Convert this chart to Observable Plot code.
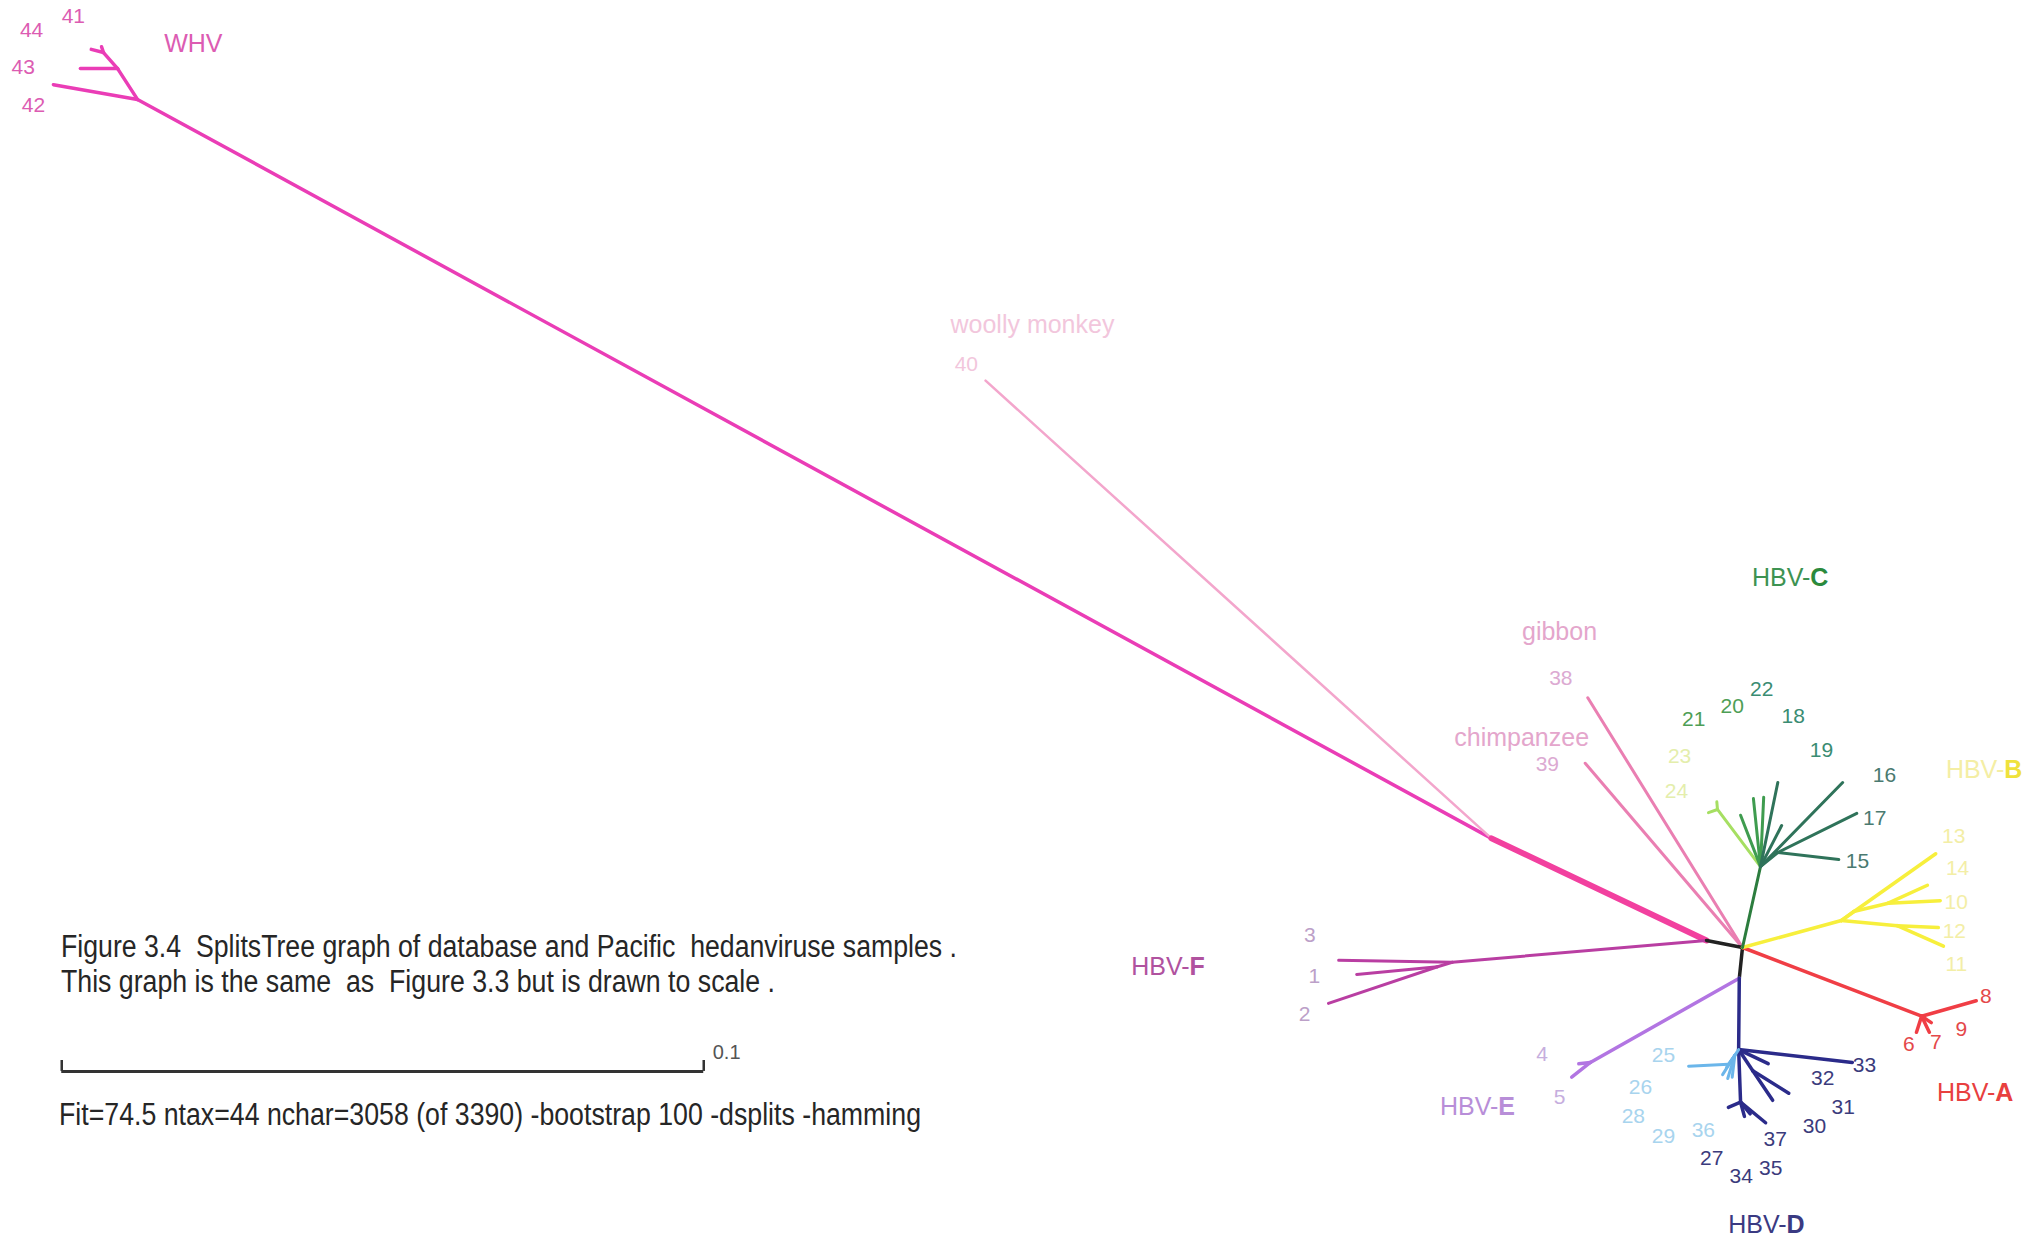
<!DOCTYPE html>
<html>
<head>
<meta charset="utf-8">
<script src="https://cdn.jsdelivr.net/npm/d3@7"></script>
<script src="https://cdn.jsdelivr.net/npm/@observablehq/plot@0.6"></script>
<style>
  html, body { margin: 0; padding: 0; background: #fff; }
  #wrap { position: relative; width: 2042px; height: 1243px; overflow: hidden; }
  #wrap svg { position: absolute; left: 0; top: 0; }
  .cap { position: absolute; white-space: pre; font-family: "Liberation Sans", Arial, sans-serif;
         font-size: 31px; line-height: 1; color: #262626; transform-origin: 0 50%; }
</style>
</head>
<body>
<div id="wrap">
  <div class="cap" style="left:61px;top:931px" data-w="896">Figure 3.4  SplitsTree graph of database and Pacific  hedanviruse samples .</div>
  <div class="cap" style="left:61px;top:966px" data-w="714">This graph is the same  as  Figure 3.3 but is drawn to scale .</div>
  <div class="cap" style="left:59px;top:1099px" data-w="862">Fit=74.5 ntax=44 nchar=3058 (of 3390) -bootstrap 100 -dsplits -hamming</div>
</div>
<script>
// Splits graph nodes: id, x, y in substitutions per site (hub of the HBV genotypes at 0,0; y grows downward)
const nodes = [
  ["H0", 0, 0], ["H1", -0.0056, -0.0011], ["H2", -0.0005, 0.0048], ["P1", -0.0391, -0.0170],
  // WHV
  ["W0", -0.2500, -0.1321], ["W1", -0.2531, -0.1369], ["W2", -0.2553, -0.1394],
  ["t42", -0.2631, -0.1344], ["t43", -0.2589, -0.1369], ["t44", -0.2572, -0.1399], ["t41", -0.2556, -0.1403],
  // primates
  ["t40", -0.1179, -0.0883], ["t38", -0.0241, -0.0389], ["t39", -0.0245, -0.0287],
  // HBV-F
  ["F0", -0.0452, 0.0023], ["F1", -0.0475, 0.0030],
  ["t3", -0.0629, 0.0020], ["t1", -0.0601, 0.0042], ["t2", -0.0645, 0.0087],
  // HBV-C
  ["C0", 0.0028, -0.0126], ["C1", -0.0039, -0.0215], ["C2", 0.0055, -0.0148],
  ["t24", -0.0053, -0.0210], ["t23", -0.0040, -0.0227],
  ["t21", -0.0003, -0.0206], ["t20", 0.0017, -0.0232], ["t22", 0.0033, -0.0234],
  ["t18", 0.0055, -0.0257], ["t19", 0.0061, -0.0190],
  ["t16", 0.0156, -0.0257], ["t17", 0.0178, -0.0209], ["t15", 0.0150, -0.0137],
  // HBV-B
  ["B0", 0.0154, -0.0042], ["B1", 0.0173, -0.0056], ["B3", 0.0227, -0.0069], ["B2", 0.0241, -0.0034],
  ["t13", 0.0301, -0.0146], ["t14", 0.0288, -0.0097], ["t10", 0.0308, -0.0073],
  ["t12", 0.0305, -0.0031], ["t11", 0.0313, -0.0002],
  // HBV-A
  ["A0", 0.0279, 0.0107], ["t8", 0.0364, 0.0083], ["t6", 0.0271, 0.0132], ["t7", 0.0291, 0.0132], ["t9", 0.0294, 0.0117],
  // HBV-E
  ["E0", -0.0237, 0.0179], ["t4", -0.0255, 0.0181], ["t5", -0.0266, 0.0202],
  // HBV-D
  ["D0", -0.0006, 0.0159], ["D1", 0.0016, 0.0192], ["D2", -0.0003, 0.0241],
  ["t33", 0.0171, 0.0179], ["t32", 0.0040, 0.0181], ["t31", 0.0072, 0.0227], ["t30", 0.0047, 0.0238],
  ["t37", 0.0036, 0.0273], ["t27", -0.0022, 0.0249], ["t34", 0.0003, 0.0263], ["t35", 0.0012, 0.0259],
  ["L0", -0.0012, 0.0168], ["L1", -0.0022, 0.0182],
  ["t25", -0.0084, 0.0185], ["t26", -0.0031, 0.0198], ["t28", -0.0023, 0.0204], ["t29", -0.0016, 0.0202], ["t36", -0.0025, 0.0187]
];

// Edges of the graph: from, to, clade
const branches = [
  ["P1", "W0", "WHV"], ["W0", "t42", "WHV"], ["W0", "W1", "WHV"], ["W1", "t43", "WHV"],
  ["W1", "W2", "WHV"], ["W2", "t44", "WHV"], ["W2", "t41", "WHV"],
  ["P1", "t40", "woolly"],
  ["H0", "t38", "ape"], ["H0", "t39", "ape"],
  ["P1", "H1", "bundle"],
  ["H1", "F0", "F"], ["F0", "t3", "F"], ["F0", "F1", "F"], ["F1", "t1", "F"], ["F1", "t2", "F"],
  ["H1", "H0", "core"], ["H0", "H2", "core"],
  ["H2", "E0", "E"], ["E0", "t4", "E"], ["E0", "t5", "E"],
  ["H2", "D0", "D"], ["D0", "t33", "D"], ["D0", "t32", "D"], ["D0", "D1", "D"], ["D1", "t31", "D"], ["D1", "t30", "D"],
  ["D0", "D2", "D"], ["D2", "t37", "D"], ["D2", "t27", "D"], ["D2", "t34", "D"], ["D2", "t35", "D"],
  ["D0", "L0", "Dlight"], ["L0", "L1", "Dlight"], ["L1", "t25", "Dlight"], ["L0", "t26", "Dlight"],
  ["L0", "t28", "Dlight"], ["L0", "t29", "Dlight"], ["L0", "t36", "Dlight"],
  ["H0", "A0", "A"], ["A0", "t8", "A"], ["A0", "t6", "A"], ["A0", "t7", "A"], ["A0", "t9", "A"],
  ["H0", "B0", "B"], ["B0", "t13", "B"], ["B0", "B1", "B"], ["B1", "B3", "B"], ["B3", "t14", "B"], ["B3", "t10", "B"],
  ["B0", "B2", "B"], ["B2", "t12", "B"], ["B2", "t11", "B"],
  ["H0", "C0", "Cstem"],
  ["C0", "C1", "Clight"], ["C1", "t24", "Clight"], ["C1", "t23", "Clight"],
  ["C0", "t21", "Cmid"], ["C0", "t20", "Cmid"], ["C0", "t22", "Cmid"],
  ["C0", "t18", "Cdark"], ["C0", "t19", "Cdark"], ["C0", "t16", "Cdark"],
  ["C0", "C2", "Cdark"], ["C2", "t17", "Cdark"], ["C2", "t15", "Cdark"]
];

// Taxon numbers: text, x, y, tone
const taxonLabels = [
  ["44", -0.2665, -0.1428, "whv"], ["41", -0.2600, -0.1450, "whv"], ["43", -0.2678, -0.1371, "whv"], ["42", -0.2662, -0.1312, "whv"],
  ["40", -0.1209, -0.0908, "woolly"], ["38", -0.0283, -0.0419, "ape"], ["39", -0.0304, -0.0285, "ape"],
  ["21", -0.0076, -0.0355, "cmid"], ["20", -0.0016, -0.0375, "cmid"], ["22", 0.0030, -0.0403, "cteal"],
  ["18", 0.0079, -0.0360, "cteal"], ["19", 0.0123, -0.0307, "cteal"],
  ["16", 0.0221, -0.0268, "cdark"], ["17", 0.0206, -0.0201, "cdark"], ["15", 0.0179, -0.0134, "cdark"],
  ["23", -0.0098, -0.0298, "clight"], ["24", -0.0103, -0.0243, "clight"],
  ["13", 0.0329, -0.0173, "b"], ["14", 0.0335, -0.0123, "b"], ["10", 0.0333, -0.0070, "b"],
  ["12", 0.0330, -0.0025, "b"], ["11", 0.0333, 0.0026, "b"],
  ["8", 0.0379, 0.0076, "a"], ["9", 0.0341, 0.0128, "a"], ["7", 0.0301, 0.0148, "a"], ["6", 0.0259, 0.0151, "a"],
  ["3", -0.0674, -0.0019, "f"], ["1", -0.0667, 0.0045, "f"], ["2", -0.0682, 0.0104, "f"],
  ["4", -0.0312, 0.0167, "e"], ["5", -0.0285, 0.0234, "e"],
  ["25", -0.0123, 0.0168, "dlight"], ["26", -0.0159, 0.0217, "dlight"], ["28", -0.0170, 0.0263, "dlight"],
  ["29", -0.0123, 0.0294, "dlight"], ["36", -0.0061, 0.0285, "dlight"],
  ["33", 0.0190, 0.0184, "d"], ["32", 0.0125, 0.0204, "d"], ["31", 0.0157, 0.0249, "d"], ["30", 0.0112, 0.0279, "d"],
  ["37", 0.0051, 0.0298, "d"], ["35", 0.0044, 0.0344, "d"], ["34", -0.0002, 0.0357, "d"], ["27", -0.0048, 0.0329, "d"]
];

// Host species names: text, x, y, tone
const hostLabels = [
  ["WHV", -0.2413, -0.1408, "whv"],
  ["woolly monkey", -0.1106, -0.0969, "woolly"],
  ["gibbon", -0.0285, -0.0492, "apeName"],
  ["chimpanzee", -0.0344, -0.0326, "apeName"]
];

// Genotype names: prefix, genotype letter, x, y, prefix tone, letter tone
const genotypeLabels = [
  ["HBV-", "C", 0.0073, -0.0575, "cname", "cbold"],
  ["HBV-", "B", 0.0375, -0.0277, "bname", "bbold"],
  ["HBV-", "A", 0.0361, 0.0227, "aname", "aname"],
  ["HBV-", "F", -0.0894, 0.0031, "fname", "fname"],
  ["HBV-", "E", -0.0413, 0.0248, "ename", "ename"],
  ["HBV-", "D", 0.0036, 0.0433, "dname", "dname"]
];

// Scale bar: length in substitutions per site
const scaleBarLength = 0.1;
const scaleBarLabel = "0.1";

// ---- styles ----
const cladeStroke = {
  WHV: "#ea3db6", woolly: "#f3a6cc", ape: "#ea7fb2", bundle: "#f2409f", F: "#b93ea2", core: "#222222",
  E: "#b275e2", D: "#2b2b8a", Dlight: "#6bb6ea", A: "#f03e45", B: "#f7ef3c",
  Cstem: "#2c7d3e", Clight: "#a6df62", Cmid: "#3f9c4f", Cdark: "#2f735a"
};
const cladeWidth = {
  WHV: 3.5, woolly: 2.5, ape: 3, bundle: 6, F: 3, core: 3.5, E: 3.5, D: 3.5, Dlight: 3,
  A: 3.5, B: 3.5, Cstem: 3, Clight: 3, Cmid: 3, Cdark: 3
};
const toneFill = {
  whv: "#dc5cb2", woolly: "#f2c6dc", ape: "#dcaad2", apeName: "#e4a6cc",
  cmid: "#4e9e55", cteal: "#3a8c72", cdark: "#4a7a70", clight: "#e4eeac",
  b: "#f3eea6", a: "#e4484a", f: "#bca0c8", e: "#c6aede", dlight: "#a8d4ee", d: "#3b3b7c",
  cname: "#3d9352", cbold: "#2b8a3c", bname: "#f4eea4", bbold: "#efe23c",
  aname: "#e8403f", fname: "#b0529f", ename: "#b88ed8", dname: "#3a3a82"
};

const W = 2042, H = 1243, pxPerUnit = 6420;
const hub = [1742, 947];
const xDomain = [-hub[0] / pxPerUnit, (W - hub[0]) / pxPerUnit];
const yDomain = [-hub[1] / pxPerUnit, (H - hub[1]) / pxPerUnit];
const scaleBarOrigin = [-0.2618, 0.0193];

const pos = new Map(nodes.map(([id, x, y]) => [id, {x, y}]));
const links = branches.map(([a, b, clade]) => ({
  x1: pos.get(a).x, y1: pos.get(a).y, x2: pos.get(b).x, y2: pos.get(b).y, clade
}));
const taxa = taxonLabels.map(([text, x, y, tone]) => ({text, x, y, tone}));
const hosts = hostLabels.map(([text, x, y, tone]) => ({text, x, y, tone}));
const genos = genotypeLabels.map(([prefix, letter, x, y, tone, boldTone]) => ({prefix, letter, x, y, tone, boldTone}));
const bar = [{x1: scaleBarOrigin[0], x2: scaleBarOrigin[0] + scaleBarLength, y: scaleBarOrigin[1]}];
const barEnds = [scaleBarOrigin[0], scaleBarOrigin[0] + scaleBarLength];

const font = "Liberation Sans, Arial, sans-serif";

const chart = Plot.plot({
  width: W, height: H, margin: 0,
  x: {domain: xDomain, range: [0, W], axis: null},
  y: {domain: yDomain, range: [0, H], axis: null},
  color: {type: "identity"},
  style: {background: "white"},
  marks: [
    Plot.link(links, {
      x1: "x1", y1: "y1", x2: "x2", y2: "y2",
      stroke: d => cladeStroke[d.clade], strokeWidth: d => cladeWidth[d.clade],
      strokeLinecap: "round", strokeLinejoin: "round"
    }),
    Plot.text(taxa, {
      x: "x", y: "y", text: "text", fill: d => toneFill[d.tone],
      fontSize: 21, fontFamily: font, textAnchor: "middle", lineAnchor: "middle"
    }),
    Plot.text(hosts, {
      x: "x", y: "y", text: "text", fill: d => toneFill[d.tone],
      fontSize: 25, fontFamily: font, textAnchor: "middle", lineAnchor: "middle"
    }),
    Plot.text(genos, {
      x: "x", y: "y", text: "prefix", fill: d => toneFill[d.tone],
      fontSize: 25, fontFamily: font, textAnchor: "end", lineAnchor: "middle", dx: 21
    }),
    Plot.text(genos, {
      x: "x", y: "y", text: "letter", fill: d => toneFill[d.boldTone],
      fontSize: 25, fontFamily: font, fontWeight: "bold", textAnchor: "start", lineAnchor: "middle", dx: 21
    }),
    // scale bar
    Plot.ruleY(bar, {x1: "x1", x2: "x2", y: "y", stroke: "#333", strokeWidth: 3}),
    Plot.ruleX(barEnds, {x: d => d, y1: scaleBarOrigin[1], y2: scaleBarOrigin[1] - 0.0017, stroke: "#333", strokeWidth: 2.5}),
    Plot.text([scaleBarLabel], {
      x: barEnds[1], y: scaleBarOrigin[1], text: d => d, fill: "#555",
      fontSize: 20, fontFamily: font, textAnchor: "start", lineAnchor: "middle", dx: 9, dy: -19
    })
  ]
});

const wrap = document.getElementById("wrap");
wrap.insertBefore(chart, wrap.firstChild);

// narrow the caption lines to their set widths
document.querySelectorAll(".cap").forEach(el => {
  const w = el.getBoundingClientRect().width;
  el.style.transform = `scaleX(${(+el.dataset.w / w).toFixed(4)})`;
});
</script>
</body>
</html>
